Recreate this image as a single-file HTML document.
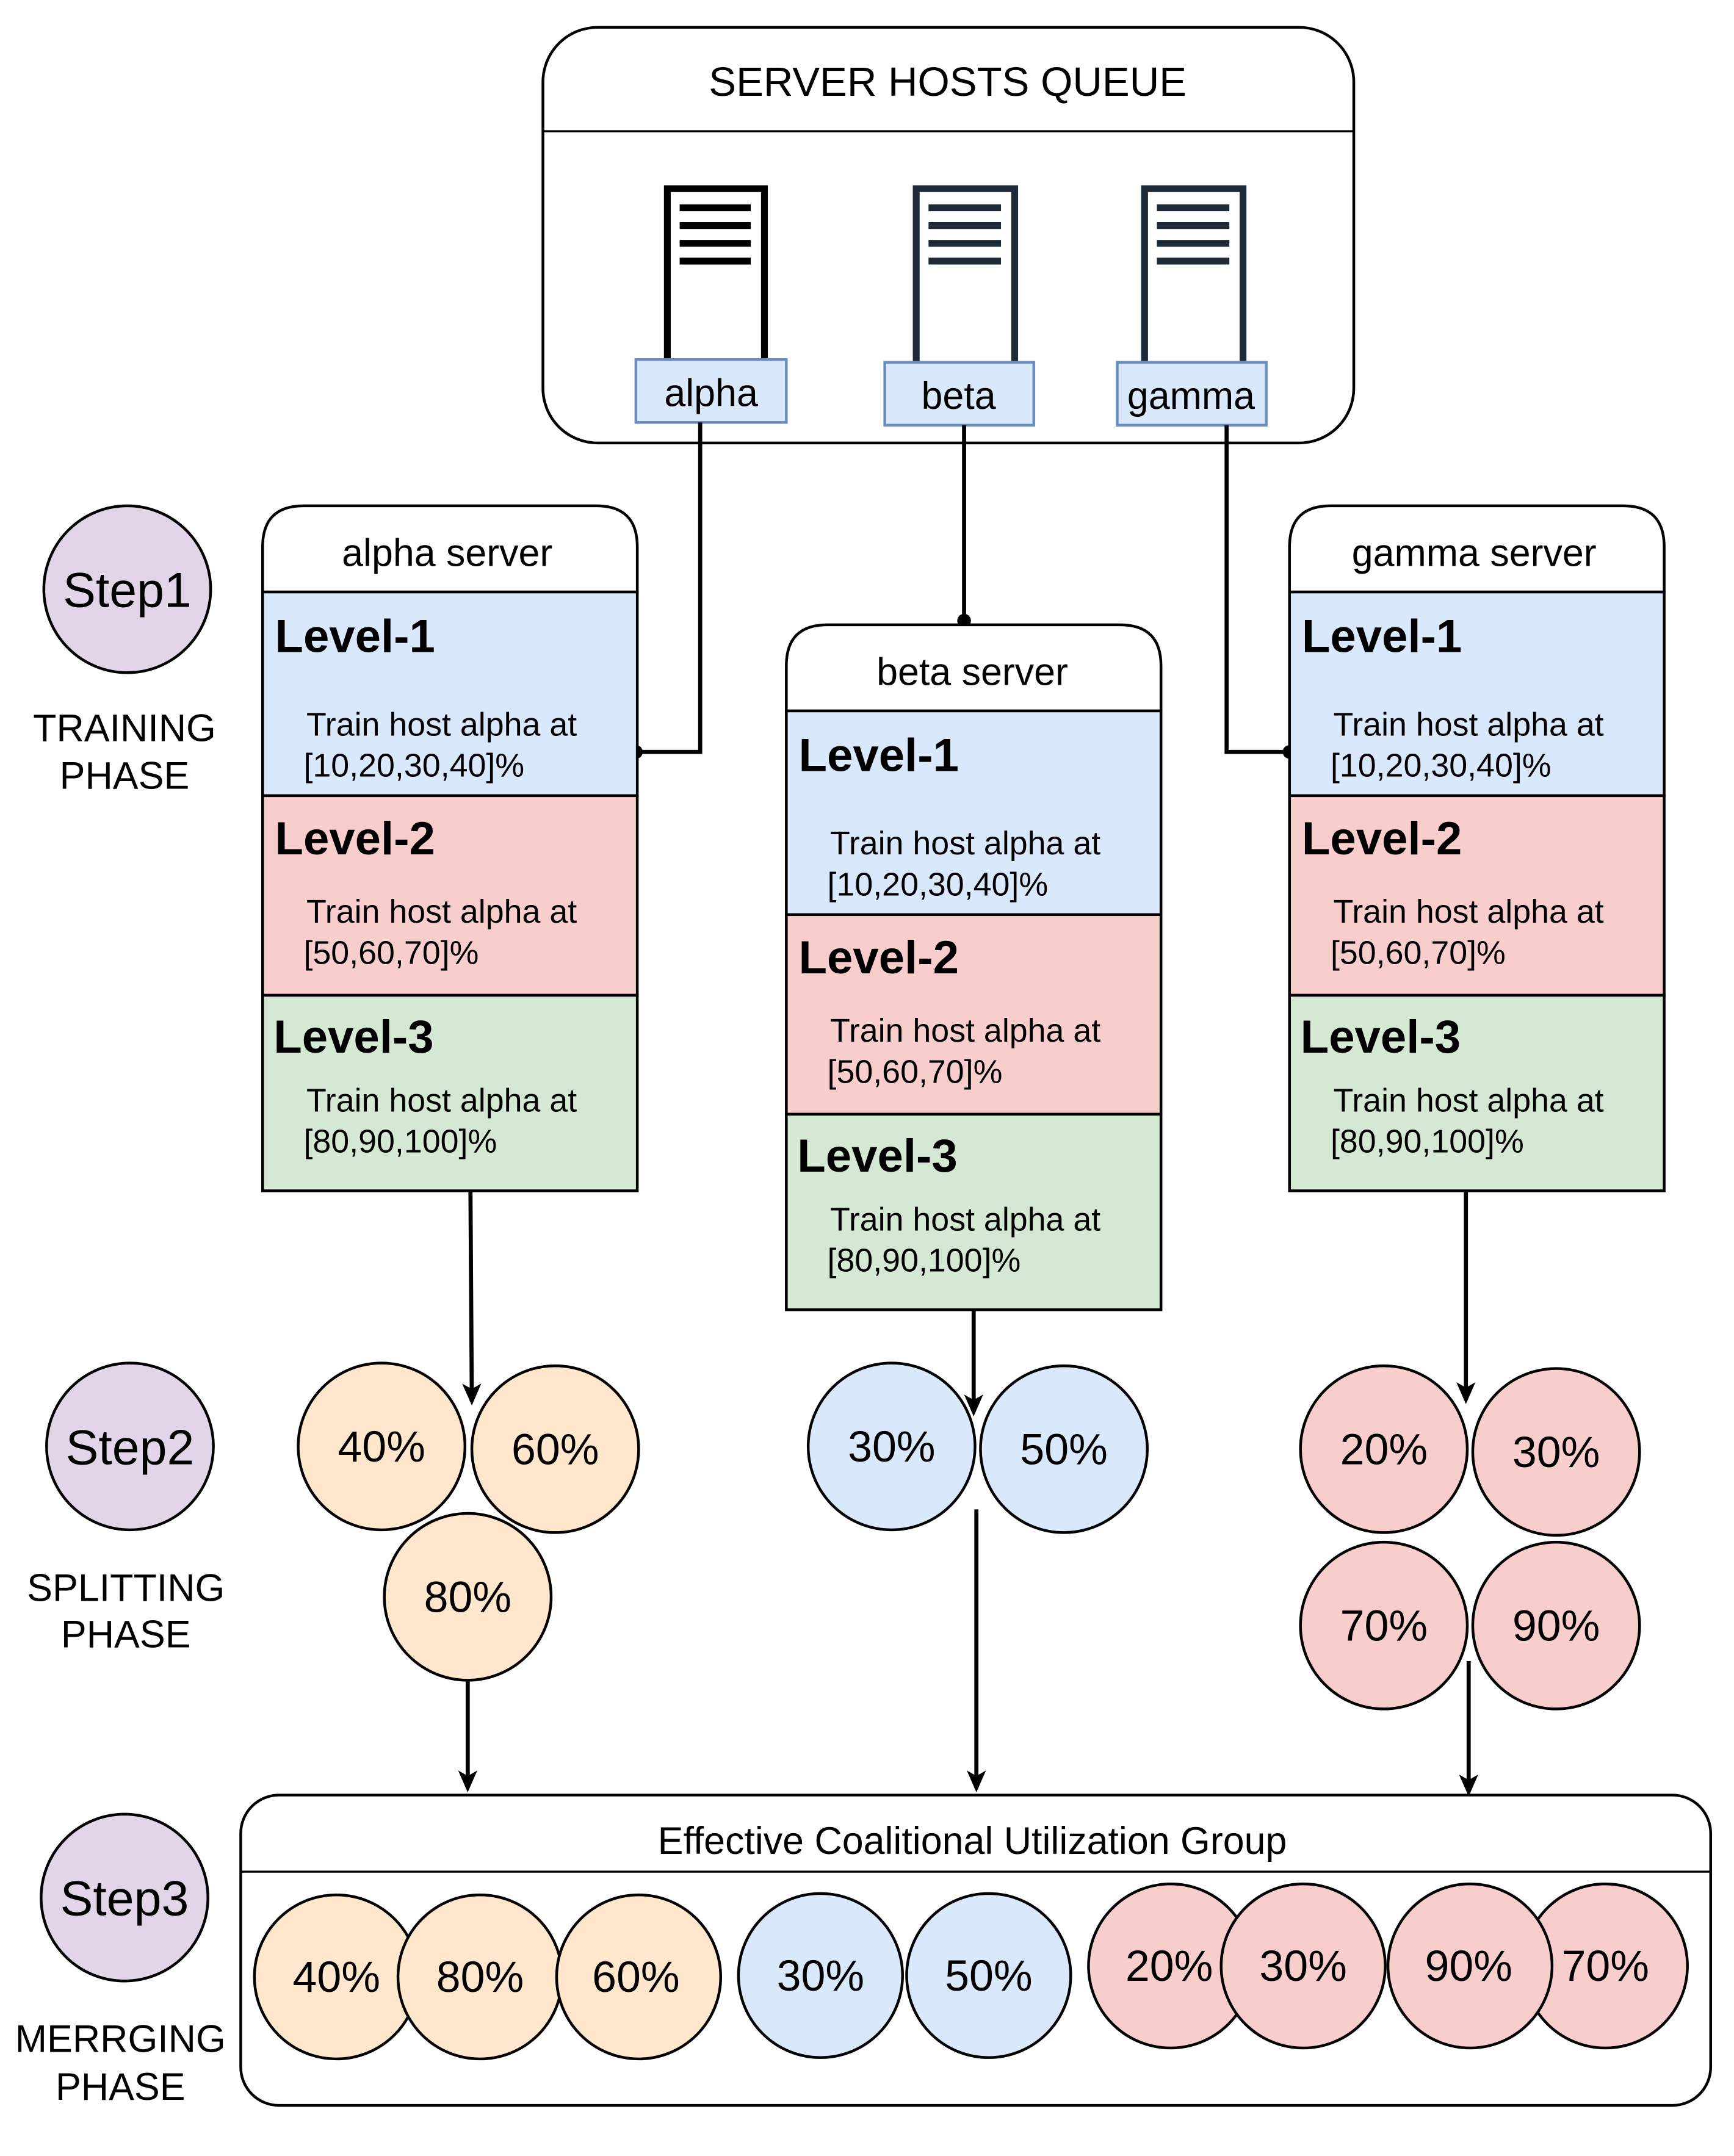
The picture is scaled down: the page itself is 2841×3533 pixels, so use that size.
<!DOCTYPE html>
<html><head><meta charset="utf-8"><style>html,body{margin:0;padding:0;background:#fff}svg{display:block}</style></head>
<body>
<svg xmlns="http://www.w3.org/2000/svg" width="2841" height="3533" viewBox="0 0 1268 1577" font-family="Liberation Sans, sans-serif">
<defs>
<marker id="ah" markerWidth="16" markerHeight="16" refX="13" refY="8" orient="auto" markerUnits="userSpaceOnUse">
<path d="M0,1 L16,8 L0,15 L4,8 Z" fill="#000"/>
</marker>
</defs>
<rect width="1268" height="1577" fill="#fff"/>
<rect x="397" y="20" width="593" height="304" rx="40" fill="#fff" stroke="#000" stroke-width="2"/>
<line x1="397" y1="96" x2="990" y2="96" stroke="#000" stroke-width="1.5"/>
<text x="693" y="70" font-size="30" text-anchor="middle">SERVER HOSTS QUEUE</text>
<g fill="none" stroke-width="5">
<path d="M488,265 V138 H559 V265" stroke="#000"/>
<path d="M670,265 V138 H742 V265" stroke="#1f2a38"/>
<path d="M837,265 V138 H909 V265" stroke="#1f2a38"/>
</g>
<g stroke-width="5">
<g stroke="#000"><line x1="497" y1="152" x2="549" y2="152"/><line x1="497" y1="165" x2="549" y2="165"/><line x1="497" y1="178" x2="549" y2="178"/><line x1="497" y1="191" x2="549" y2="191"/></g>
<g stroke="#1f2a38"><line x1="679" y1="152" x2="732" y2="152"/><line x1="679" y1="165" x2="732" y2="165"/><line x1="679" y1="178" x2="732" y2="178"/><line x1="679" y1="191" x2="732" y2="191"/></g>
<g stroke="#1f2a38"><line x1="846" y1="152" x2="899" y2="152"/><line x1="846" y1="165" x2="899" y2="165"/><line x1="846" y1="178" x2="899" y2="178"/><line x1="846" y1="191" x2="899" y2="191"/></g>
</g>
<g fill="#dae8fc" stroke="#6c8ebf" stroke-width="2">
<rect x="465" y="263" width="110" height="46"/>
<rect x="647" y="265" width="109" height="46"/>
<rect x="817" y="265" width="109" height="46"/>
</g>
<g font-size="28" text-anchor="middle">
<text x="520" y="297">alpha</text><text x="701" y="299">beta</text><text x="871" y="299">gamma</text>
</g>
<g fill="none" stroke="#000" stroke-width="3">
<path d="M512,309 V550 H465"/>
<path d="M705,311 V454"/>
<path d="M897,311 V550 H943"/>
</g>
<circle cx="465" cy="550" r="5"/><circle cx="705" cy="454" r="5"/><circle cx="943" cy="550" r="5"/>
<g id="alpha">
<path d="M192,433 V400 Q192,370 222,370 H436 Q466,370 466,400 V433 Z" fill="#fff" stroke="#000" stroke-width="2"/>
<rect x="192" y="433" width="274" height="149" fill="#dae8fc" stroke="#000" stroke-width="2"/>
<rect x="192" y="582" width="274" height="146" fill="#f8cecc" stroke="#000" stroke-width="2"/>
<rect x="192" y="728" width="274" height="143" fill="#d5e8d4" stroke="#000" stroke-width="2"/>
<text x="327" y="414" font-size="28" text-anchor="middle">alpha server</text>
<g font-size="34" font-weight="bold"><text x="201" y="477">Level-1</text><text x="201" y="625">Level-2</text><text x="200" y="770">Level-3</text></g>
<g font-size="24"><text x="224" y="538">Train host alpha at</text><text x="222" y="568">[10,20,30,40]%</text>
<text x="224" y="675">Train host alpha at</text><text x="222" y="705">[50,60,70]%</text>
<text x="224" y="813">Train host alpha at</text><text x="222" y="843">[80,90,100]%</text></g>
</g>
<use href="#alpha" transform="translate(383,87)"/>
<use href="#alpha" transform="translate(751,0)"/>
<rect x="600" y="470" width="224" height="40" fill="#fff"/>
<text x="711" y="501" font-size="28" text-anchor="middle">beta server</text>
<rect x="968" y="383" width="224" height="40" fill="#fff"/>
<text x="1078" y="414" font-size="28" text-anchor="middle">gamma server</text>
<g stroke="#000" stroke-width="3" marker-end="url(#ah)">
<line x1="344" y1="871" x2="345" y2="1025"/>
<line x1="712" y1="958" x2="712" y2="1033"/>
<line x1="1072" y1="871" x2="1072" y2="1024"/>
<line x1="342" y1="1230" x2="342" y2="1308"/>
<line x1="714" y1="1104" x2="714" y2="1308"/>
<line x1="1074" y1="1215" x2="1074" y2="1311"/>
</g>
<g stroke="#000" stroke-width="2">
<g fill="#ffe6cc"><circle cx="279" cy="1058" r="61"/><circle cx="406" cy="1060" r="61"/><circle cx="342" cy="1168" r="61"/></g>
<g fill="#dae8fc"><circle cx="652" cy="1058" r="61"/><circle cx="778" cy="1060" r="61"/></g>
<g fill="#f8cecc"><circle cx="1012" cy="1060" r="61"/><circle cx="1138" cy="1062" r="61"/><circle cx="1012" cy="1189" r="61"/><circle cx="1138" cy="1189" r="61"/></g>
</g>
<g font-size="32" text-anchor="middle">
<text x="279" y="1069">40%</text><text x="406" y="1071">60%</text><text x="342" y="1179">80%</text>
<text x="652" y="1069">30%</text><text x="778" y="1071">50%</text>
<text x="1012" y="1071">20%</text><text x="1138" y="1073">30%</text><text x="1012" y="1200">70%</text><text x="1138" y="1200">90%</text>
</g>
<rect x="176" y="1313" width="1075" height="227" rx="28" fill="#fff" stroke="#000" stroke-width="2"/>
<line x1="176" y1="1369" x2="1251" y2="1369" stroke="#000" stroke-width="1.5"/>
<text x="711" y="1356" font-size="28" text-anchor="middle">Effective Coalitional Utilization Group</text>
<g stroke="#000" stroke-width="2">
<g fill="#ffe6cc"><circle cx="246" cy="1446" r="60"/><circle cx="351" cy="1446" r="60"/><circle cx="467" cy="1446" r="60"/></g>
<g fill="#dae8fc"><circle cx="600" cy="1445" r="60"/><circle cx="723" cy="1445" r="60"/></g>
<g fill="#f8cecc"><circle cx="856" cy="1438" r="60"/><circle cx="953" cy="1438" r="60"/><circle cx="1174" cy="1438" r="60"/><circle cx="1075" cy="1438" r="60"/></g>
</g>
<g font-size="32" text-anchor="middle">
<text x="246" y="1457">40%</text><text x="351" y="1457">80%</text><text x="465" y="1457">60%</text>
<text x="600" y="1456">30%</text><text x="723" y="1456">50%</text>
<text x="855" y="1449">20%</text><text x="953" y="1449">30%</text><text x="1074" y="1449">90%</text><text x="1174" y="1449">70%</text>
</g>
<g fill="#e1d5e7" stroke="#000" stroke-width="2">
<circle cx="93" cy="431" r="61"/><circle cx="95" cy="1058" r="61"/><circle cx="91" cy="1388" r="61"/>
</g>
<g font-size="36" text-anchor="middle">
<text x="93" y="444">Step1</text><text x="95" y="1071">Step2</text><text x="91" y="1401">Step3</text>
</g>
<g font-size="28" text-anchor="middle">
<text x="91" y="542">TRAINING</text><text x="91" y="577">PHASE</text>
<text x="92" y="1171">SPLITTING</text><text x="92" y="1205">PHASE</text>
<text x="88" y="1501">MERRGING</text><text x="88" y="1536">PHASE</text>
</g>
</svg>
</body></html>
